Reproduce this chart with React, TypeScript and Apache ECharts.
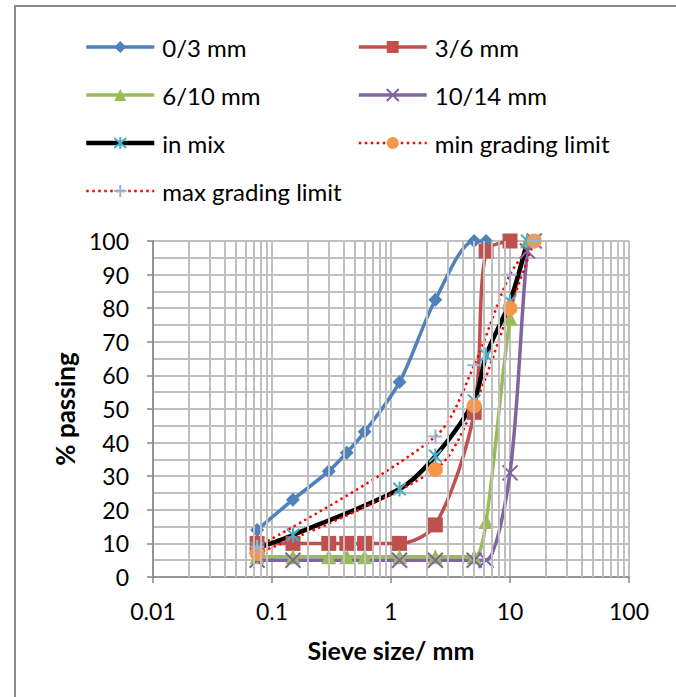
import React, { useEffect, useRef } from "react";
import * as echarts from "echarts";

const sieves = [0.075, 0.15, 0.3, 0.425, 0.6, 1.18, 2.36, 5, 6.3, 10, 14, 16];
const pass0_3 = [14, 23, 31.5, 37, 43.2, 58, 82.5, 100, 100, null, null, null];
const pass3_6 = [10, 10, 10, 10, 10, 10, 15.5, 49, 97, 100, null, null];
const pass6_10 = [6, 6, 6, 6, 6, 6, 6, 6, 16.5, 77, 100, null];
const pass10_14 = [5, 5, null, null, null, 5, 5, 5, 5, 31, 97, 100];
const passMix = [8.5, 12.5, null, null, null, 26.2, 36, 52.5, 66, 82, 100, null];
const minLimit = [7, null, null, null, null, null, 32, 51, null, 80, null, 100];
const maxLimit = [9, null, null, null, null, null, 41.8, 63, null, 90, null, 100];

const xTickLabels = ["0.01", "0.1", "1", "10", "100"];
const seriesNames = ["0/3 mm", "3/6 mm", "6/10 mm", "10/14 mm", "in mix", "min grading limit", "max grading limit"];

const FONT = "Lato, 'Liberation Sans', sans-serif";
const X_PATH = "path://M0,0L10,10M10,0L0,10";
const STAR_PATH = "path://M0,0L10,10M10,0L0,10M5,-1L5,11";
const PLUS_PATH = "path://M5,0L5,10M0,5L10,5";

function pairs(vals: (number | null)[]) {
  const out: [number, number][] = [];
  vals.forEach((v, i) => {
    if (v !== null) out.push([sieves[i], v]);
  });
  return out;
}

export default function App() {
  const ref = useRef<HTMLDivElement>(null);
  useEffect(() => {
    if (!ref.current) return;
    document.body.style.margin = "0";
    document.body.style.overflow = "hidden";
    document.documentElement.style.overflow = "hidden";
    const chart = echarts.init(ref.current, undefined, { renderer: "svg" });

    const minorVals: number[] = [];
    [0.01, 0.1, 1, 10].forEach((d) => {
      for (let k = 2; k <= 9; k++) minorVals.push(+(d * k).toPrecision(3));
    });

    const gridColor = "#c0c0c0";
    const legendText = { fontFamily: FONT, fontSize: 24, color: "#000", lineHeight: 24, padding: [0, 0, 0, 3] };
    const legendBase = {
      orient: "vertical",
      top: 35,
      padding: 0,
      itemWidth: 68,
      itemHeight: 15,
      itemGap: 24,
      textStyle: legendText,
      lineStyle: { width: "inherit" },
    };

    const option: any = {
      animation: false,
      backgroundColor: "#ffffff",
      textStyle: { fontFamily: FONT },
      graphic: [
        {
          type: "rect",
          id: "frame",
          shape: { x: 15, y: 6, width: 800, height: 800 },
          style: { fill: "none", stroke: "#8a8a8a", lineWidth: 2 },
          silent: true,
        },
      ],
      legend: [
        { ...legendBase, left: 84, data: [seriesNames[0], seriesNames[2], seriesNames[4], seriesNames[6]] },
        { ...legendBase, left: 357, data: [seriesNames[1], seriesNames[3], seriesNames[5]] },
      ],
      grid: { left: 153, right: 47, top: 241, bottom: 120 },
      xAxis: {
        type: "log",
        logBase: 10,
        min: 0.01,
        max: 100,
        name: "Sieve size/ mm",
        nameLocation: "middle",
        nameGap: 60,
        nameTextStyle: { fontFamily: FONT, fontSize: 25, fontWeight: "bold", color: "#000" },
        axisLine: { lineStyle: { color: "#868686", width: 1.5 } },
        axisTick: { show: true, length: 6, lineStyle: { color: "#868686", width: 1.5 } },
        axisLabel: {
          fontFamily: FONT,
          fontSize: 23,
          color: "#000",
          margin: 22,
          formatter: (v: number) => {
            const idx = Math.round(Math.log10(v)) + 2;
            return xTickLabels[idx] ?? String(v);
          },
        },
        splitLine: { show: true, lineStyle: { color: gridColor, width: 2 } },
      },
      yAxis: {
        type: "value",
        min: 0,
        max: 100,
        interval: 10,
        name: "% passing",
        nameLocation: "middle",
        nameGap: 74,
        nameTextStyle: { fontFamily: FONT, fontSize: 26, fontWeight: "bold", color: "#000" },
        axisLine: { show: true, lineStyle: { color: "#868686", width: 1.5 } },
        axisTick: { show: true, length: 6, lineStyle: { color: "#868686", width: 1.5 } },
        axisLabel: { fontFamily: FONT, fontSize: 23, color: "#000", margin: 24 },
        splitLine: { show: true, lineStyle: { color: gridColor, width: 2 } },
        minorTick: { show: false, splitNumber: 2 },
        minorSplitLine: { show: true, lineStyle: { color: gridColor, width: 2 } },
      },
      series: [
        {
          name: "__minor",
          type: "line",
          data: [],
          silent: true,
          z: 0,
          markLine: {
            silent: true,
            symbol: ["none", "none"],
            label: { show: false },
            lineStyle: { color: gridColor, width: 2, type: "solid" },
            data: minorVals.map((v) => ({ xAxis: v })),
          },
        },
        {
          name: seriesNames[0],
          type: "line",
          smooth: 0.3,
          data: pairs(pass0_3),
          symbol: "diamond",
          symbolSize: 14,
          lineStyle: { color: "#4F81BD", width: 3.5 },
          itemStyle: { color: "#4F81BD" },
        },
        {
          name: seriesNames[1],
          type: "line",
          smooth: 0.3,
          data: pairs(pass3_6),
          symbol: "rect",
          symbolSize: 15,
          lineStyle: { color: "#C0504D", width: 3.5 },
          itemStyle: { color: "#C0504D" },
        },
        {
          name: seriesNames[2],
          type: "line",
          smooth: 0.3,
          data: pairs(pass6_10),
          symbol: "triangle",
          symbolSize: 15,
          lineStyle: { color: "#9BBB59", width: 3.5 },
          itemStyle: { color: "#9BBB59" },
        },
        {
          name: seriesNames[3],
          type: "line",
          smooth: 0.3,
          data: pairs(pass10_14),
          symbol: X_PATH,
          symbolSize: 15,
          symbolKeepAspect: true,
          lineStyle: { color: "#8064A2", width: 3.5 },
          itemStyle: { color: "none", borderColor: "#8064A2", borderWidth: 2 },
        },
        {
          name: seriesNames[4],
          type: "line",
          smooth: 0.3,
          data: pairs(passMix),
          symbol: STAR_PATH,
          symbolSize: 15,
          symbolKeepAspect: true,
          lineStyle: { color: "#000000", width: 4.5 },
          itemStyle: { color: "none", borderColor: "#4BACC6", borderWidth: 2 },
        },
        {
          name: seriesNames[5],
          type: "line",
          smooth: 0.3,
          data: pairs(minLimit),
          symbol: "circle",
          symbolSize: 15,
          lineStyle: { color: "#FF0000", width: 2.5, type: [2.5, 3.5] },
          itemStyle: { color: "#F79646" },
        },
        {
          name: seriesNames[6],
          type: "line",
          smooth: 0.3,
          data: pairs(maxLimit),
          symbol: PLUS_PATH,
          symbolSize: 14,
          symbolKeepAspect: true,
          lineStyle: { color: "#FF0000", width: 2.5, type: [2.5, 3.5] },
          itemStyle: { color: "none", borderColor: "#95B3D7", borderWidth: 2 },
        },
      ],
    };
    chart.setOption(option);
    return () => chart.dispose();
  }, []);
  return <div ref={ref} style={{ position: "absolute", left: 0, top: 0, width: 676, height: 697 }} />;
}
